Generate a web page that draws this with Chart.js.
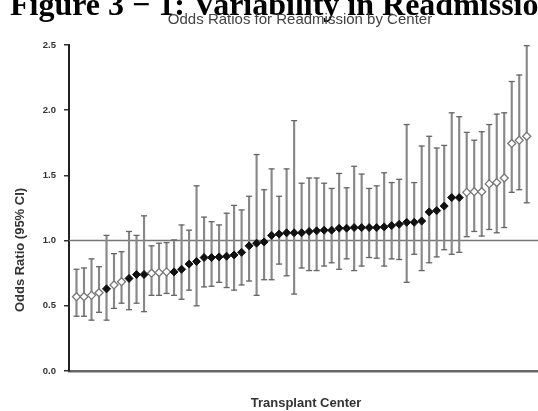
<!DOCTYPE html>
<html>
<head>
<meta charset="utf-8">
<script src="https://cdn.jsdelivr.net/npm/chart.js@4.4.0/dist/chart.umd.min.js"></script>
<style>
html,body{margin:0;padding:0;background:#fff;}
#wrap{position:relative;width:538px;height:411px;}
</style>
</head>
<body>
<div id="wrap"><canvas id="chart" width="538" height="411"></canvas></div>
<script>
// transplant centers, sorted by odds ratio
var centers = [];
for (var c = 1; c <= 61; c++) centers.push(c);

var oddsRatio = [0.57,0.57,0.58,0.60,0.63,0.66,0.685,0.71,0.74,0.74,
                 0.75,0.755,0.76,0.76,0.78,0.82,0.84,0.87,0.87,0.875,
                 0.88,0.89,0.91,0.96,0.98,0.99,1.04,1.05,1.06,1.06,
                 1.06,1.07,1.075,1.08,1.08,1.095,1.095,1.10,1.10,1.10,
                 1.10,1.105,1.115,1.125,1.14,1.14,1.15,1.22,1.23,1.265,
                 1.33,1.33,1.37,1.375,1.375,1.435,1.445,1.48,1.745,1.77,1.80];
var lowerCI = [0.42,0.42,0.39,0.45,0.39,0.48,0.52,0.47,0.52,0.455,
               0.58,0.58,0.595,0.58,0.55,0.62,0.50,0.645,0.65,0.68,
               0.64,0.62,0.66,0.69,0.58,0.70,0.70,0.82,0.73,0.59,
               0.79,0.77,0.77,0.805,0.83,0.78,0.86,0.77,0.805,0.87,
               0.865,0.805,0.86,0.855,0.68,0.895,0.77,0.83,0.875,0.93,
               0.895,0.91,1.03,1.07,1.035,1.085,1.06,1.10,1.37,1.39,1.29];
var upperCI = [0.78,0.79,0.86,0.80,1.04,0.90,0.915,1.07,1.04,1.19,
               0.96,0.98,0.985,1.005,1.12,1.08,1.42,1.18,1.145,1.12,
               1.21,1.27,1.235,1.34,1.66,1.39,1.55,1.34,1.55,1.92,
               1.44,1.48,1.48,1.44,1.40,1.515,1.405,1.57,1.51,1.40,
               1.42,1.52,1.445,1.47,1.89,1.445,1.725,1.80,1.71,1.73,
               1.98,1.95,1.83,1.77,1.835,1.89,1.97,1.98,2.22,2.27,2.495];
// 1 = open (hollow) marker, 0 = filled marker
var openMarker = [1,1,1,1,0,1,1,0,0,0,
                  1,1,1,0,0,0,0,0,0,0,
                  0,0,0,0,0,0,0,0,0,0,
                  0,0,0,0,0,0,0,0,0,0,
                  0,0,0,0,0,0,0,0,0,0,
                  0,0,1,1,1,1,1,1,1,1,1];
var yTicks = [0, 0.5, 1.0, 1.5, 2.0, 2.5];
var refValue = 1.0;

var whiskers = [], capsHi = [], capsLo = [], filledPts = [], openPts = [];
for (var i = 0; i < centers.length; i++) {
    whiskers.push({x: centers[i], y: [lowerCI[i], upperCI[i]]});
    capsHi.push({x: centers[i], y: upperCI[i]});
    capsLo.push({x: centers[i], y: lowerCI[i]});
    if (openMarker[i]) openPts.push({x: centers[i], y: oddsRatio[i]});
    else filledPts.push({x: centers[i], y: oddsRatio[i]});
}

var textPlugin = {
    id: 'texts',
    afterDraw: function(chart) {
        var ctx = chart.ctx;
        ctx.save();
        ctx.fillStyle = '#000';
        ctx.font = 'bold 32px "Liberation Serif", "Times New Roman", serif';
        ctx.textAlign = 'left';
        ctx.textBaseline = 'alphabetic';
        ctx.fillText('Figure 3 \u2212 1: Variability in Readmission', 10, 15);

        ctx.fillStyle = '#444';
        ctx.font = '15px "Liberation Sans", Arial, sans-serif';
        ctx.textAlign = 'center';
        ctx.textBaseline = 'middle';
        ctx.fillText('Odds Ratios for Readmission by Center', 300, 20);

        ctx.fillStyle = '#333';
        ctx.font = 'bold 13px "Liberation Sans", Arial, sans-serif';
        ctx.fillText('Transplant Center', 306, 403);

        ctx.translate(20, 250);
        ctx.rotate(-Math.PI / 2);
        ctx.font = 'bold 13px "Liberation Sans", Arial, sans-serif';
        ctx.fillText('Odds Ratio (95% CI)', 0, 0);
        ctx.restore();
    }
};

var ctx = document.getElementById('chart');
var chart = new Chart(ctx, {
    type: 'scatter',
    data: {
        datasets: [
            {
                label: 'filled',
                data: filledPts,
                order: 0,
                pointStyle: 'rectRot',
                pointRadius: 4,
                backgroundColor: '#111',
                borderColor: '#111',
                borderWidth: 1
            },
            {
                label: 'open',
                data: openPts,
                order: 1,
                pointStyle: 'rectRot',
                pointRadius: 4,
                backgroundColor: '#fff',
                borderColor: '#777',
                borderWidth: 1.3
            },
            {
                label: 'capHi',
                data: capsHi,
                order: 2,
                pointStyle: 'line',
                pointRadius: 3,
                borderColor: '#666',
                borderWidth: 1.3
            },
            {
                label: 'capLo',
                data: capsLo,
                order: 3,
                pointStyle: 'line',
                pointRadius: 3,
                borderColor: '#666',
                borderWidth: 1.3
            },
            {
                type: 'bar',
                label: 'ci',
                data: whiskers,
                order: 4,
                barThickness: 1.5,
                backgroundColor: '#888',
                borderWidth: 0
            },
            {
                type: 'line',
                label: 'ref',
                data: [{x: 0, y: refValue}, {x: 62.5, y: refValue}],
                order: 5,
                borderColor: '#777',
                borderWidth: 1.5,
                pointRadius: 0
            }
        ]
    },
    options: {
        responsive: false,
        animation: false,
        layout: {autoPadding: false, padding: {top: 45, left: 0, right: 0, bottom: 0}},
        plugins: {legend: {display: false}, tooltip: {enabled: false}},
        scales: {
            x: {
                type: 'linear',
                min: 0,
                max: 62.5,
                offset: false,
                grid: {display: false},
                ticks: {display: false},
                border: {display: true, color: '#666', width: 2.5},
                afterFit: function(scale) { scale.height = 40; }
            },
            y: {
                min: 0,
                max: 2.5,
                afterBuildTicks: function(scale) {
                    scale.ticks = yTicks.map(function(v) { return {value: v}; });
                },
                ticks: {
                    padding: 8,
                    color: '#333',
                    font: {family: '"Liberation Sans", Arial, sans-serif', size: 9.5, weight: 'bold'},
                    callback: function(v) { return v.toFixed(1); }
                },
                grid: {drawOnChartArea: false, drawTicks: true, tickLength: 5, color: '#333', lineWidth: 1.5},
                border: {display: true, color: '#222', width: 2},
                afterFit: function(scale) { scale.width = 69; }
            }
        }
    },
    plugins: [textPlugin]
});
</script>
</body>
</html>
